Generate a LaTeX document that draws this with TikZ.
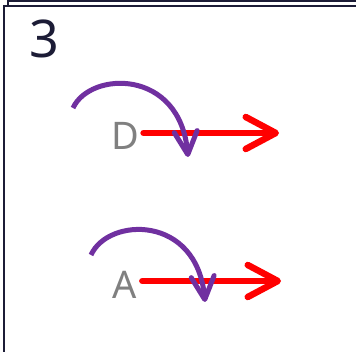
\documentclass[tikz,border=0pt]{standalone}
\usepackage{fontspec}
\setmainfont{Noto Sans}
\usetikzlibrary{arrows.meta}
\definecolor{navy}{HTML}{1C1C36}
\definecolor{purp}{HTML}{7030A0}
\definecolor{lbl}{HTML}{808080}
\tikzset{
  frameline/.style={draw=navy, line width=1.6pt},
  redarrow/.style={draw=red, line width=6.5pt, line cap=round,
    -{Straight Barb[length=30pt, width=32pt, round]}},
  purparrow/.style={draw=purp, line width=5pt,
    -{Straight Barb[length=23pt, width=23pt, round]}},
  letter/.style={text=lbl, font=\fontsize{38}{40}\selectfont, inner sep=0pt},
  number/.style={text=navy, font=\fontsize{52}{54}\selectfont, inner sep=0pt}
}
\begin{document}
\begin{tikzpicture}[x=1pt, y=-1pt]
\useasboundingbox (0,0) rectangle (356,352);
% stacked frames
\draw[frameline] (8,6) -- (8,1) -- (360,1);
\draw[frameline] (4,360) -- (4,6) -- (360,6);
\node[number] (n3) at (44,38.5) {3};
% D
\node[letter] (D) at (125.5,135.5) {D};
\coordinate (Dend) at (279,133);
\draw[redarrow] ([xshift=4pt]D.east |- Dend) -- (Dend);
\coordinate (Darcs) at (73,108);
\coordinate (Darce) at (188,157);
\draw[purparrow] (Darcs) .. controls (90,71) and (180,68) .. (Darce);
% A
\node[letter] (A) at (125,284.5) {A};
\coordinate (Aend) at (281,281);
\draw[redarrow] ([xshift=5pt]A.east |- Aend) -- (Aend);
\coordinate (Aarcs) at (91,255);
\coordinate (Aarce) at (205,302);
\draw[purparrow] (Aarcs) .. controls (108,217) and (197,214) .. (Aarce);
\end{tikzpicture}
\end{document}
